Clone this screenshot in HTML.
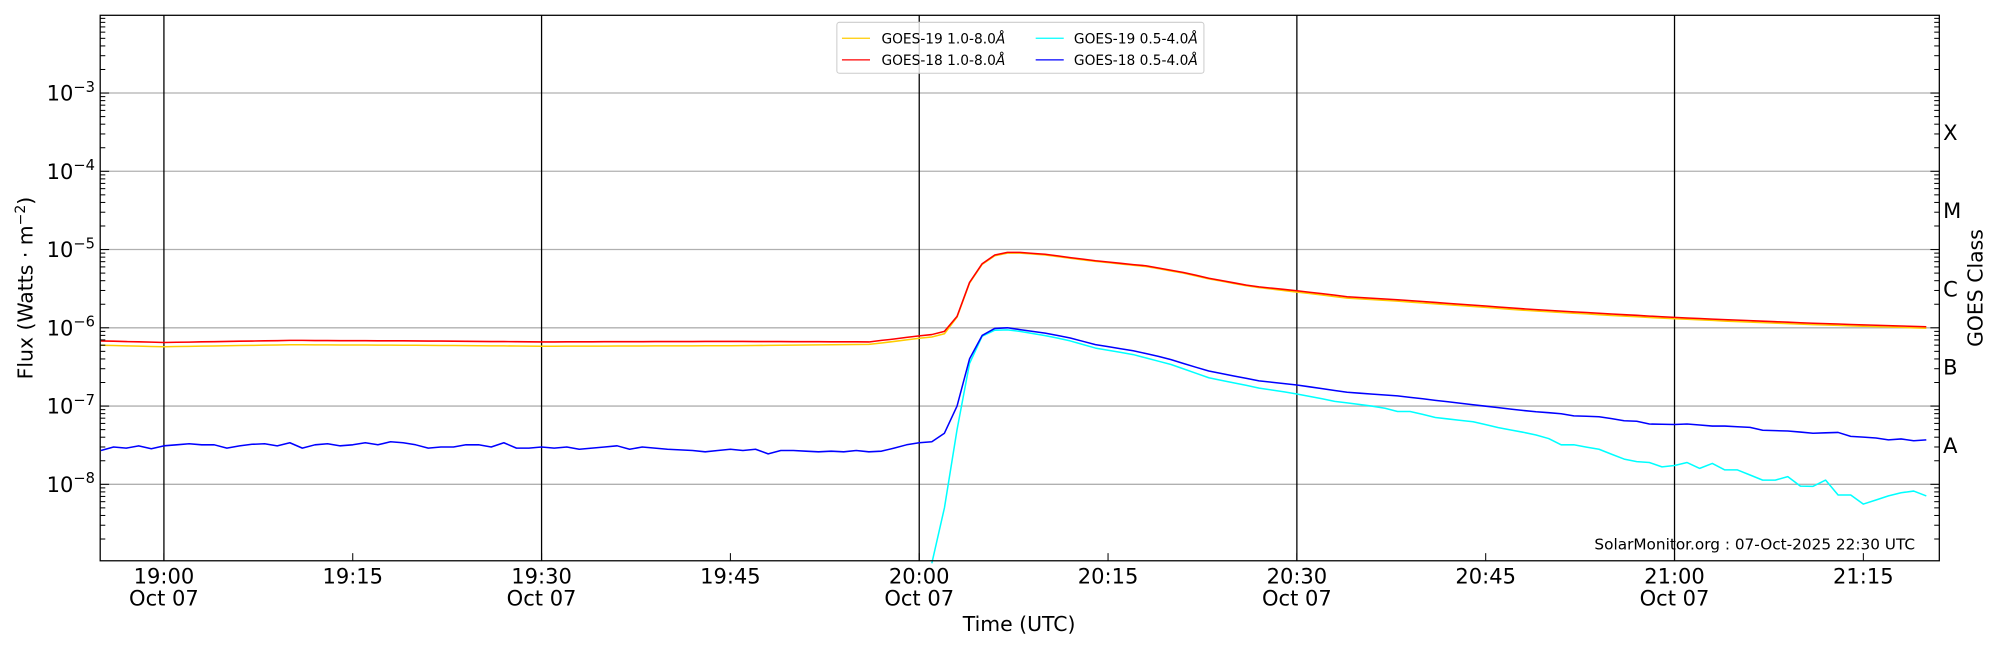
<!DOCTYPE html>
<html><head><meta charset="utf-8"><style>
html,body{margin:0;padding:0;background:#fff;width:2000px;height:650px;overflow:hidden}
svg{display:block}
text{font-family:"DejaVu Sans","Liberation Sans",sans-serif;fill:#000}
</style></head><body>
<svg id="s" width="2000" height="650" viewBox="0 0 1568 510" xmlns="http://www.w3.org/2000/svg">
<rect width="1568" height="510" fill="#fff"/>
<g id="grid"></g>
<g id="series"></g>
<g id="axes"></g>
<rect x="78" y="12" width="1443" height="428" fill="none" stroke="#000" stroke-width="1"/>
<rect x="656" y="17.5" width="288" height="40" rx="2" fill="#fff" fill-opacity="0.8" stroke="#ccc" stroke-width="0.8"/>
<line x1="660" y1="30" x2="682" y2="30" stroke="#ffcc00" stroke-width="1"/>
<line x1="660" y1="47" x2="682" y2="47" stroke="#ff0000" stroke-width="1"/>
<line x1="812" y1="30" x2="834" y2="30" stroke="#00ffff" stroke-width="1"/>
<line x1="812" y1="47" x2="834" y2="47" stroke="#0000ff" stroke-width="1"/>
<text x="691" y="34" font-size="10.8">GOES-19 1.0-8.0<tspan font-style="italic">Å</tspan></text>
<text x="691" y="51" font-size="10.8">GOES-18 1.0-8.0<tspan font-style="italic">Å</tspan></text>
<text x="842" y="34" font-size="10.8">GOES-19 0.5-4.0<tspan font-style="italic">Å</tspan></text>
<text x="842" y="51" font-size="10.8">GOES-18 0.5-4.0<tspan font-style="italic">Å</tspan></text>
<text x="1502" y="431" font-size="12" text-anchor="end">SolarMonitor.org : 07-Oct-2025 22:30 UTC</text>
<text x="799" y="495" font-size="16" text-anchor="middle">Time (UTC)</text>
<text transform="translate(25,226) rotate(-90)" font-size="16" text-anchor="middle">Flux (Watts · m<tspan dy="-6" font-size="11">−2</tspan><tspan dy="6">)</tspan></text>
<text transform="translate(1555,226) rotate(-90)" font-size="16" text-anchor="middle">GOES Class</text>
</svg>
<script>
var NS="http://www.w3.org/2000/svg";
function el(p,t,a,txt){var e=document.createElementNS(NS,t);for(var k in a)e.setAttribute(k,a[k]);if(txt!==undefined)e.textContent=txt;document.getElementById(p).appendChild(e);return e;}
var L=78,R=1521,T=12,B=440;
function X(m){return 128+m*9.877;}
function Y(v){return 380-(Math.log10(v)+8)*61.4;}
for(var d=-8;d<=-3;d++){var y=Y(Math.pow(10,d));el("grid","line",{x1:L,x2:R,y1:y,y2:y,stroke:"#b0b0b0","stroke-width":1});}
for(var h=0;h<=120;h+=30){var x=X(h);el("grid","line",{x1:x,x2:x,y1:T,y2:B,stroke:"#000","stroke-width":1});}
for(var d=-9;d<=-3;d++){for(var k=1;k<=9;k++){var y=Y(k*Math.pow(10,d));if(y<T||y>B)continue;var len=k==1?7:4;
el("axes","line",{x1:L,x2:L+len,y1:y,y2:y,stroke:"#000","stroke-width":0.8});
el("axes","line",{x1:R-len,x2:R,y1:y,y2:y,stroke:"#000","stroke-width":0.8});}}
for(var d=-3;d>=-8;d--){var y=Y(Math.pow(10,d));var t=el("axes","text",{x:36,y:y+6,"font-size":16.5},"10");var ts=document.createElementNS(NS,"tspan");ts.setAttribute("dy","-7");ts.setAttribute("font-size","11.5");ts.textContent="−"+(-d);t.appendChild(ts);}
var cls=["X","M","C","B","A"];for(var i=0;i<5;i++){var y=Y(Math.pow(10,-3.5-i));el("axes","text",{x:1524,y:y+6,"font-size":16.5},cls[i]);}
var xl=["19:00","19:15","19:30","19:45","20:00","20:15","20:30","20:45","21:00","21:15"];
for(var i=0;i<10;i++){var x=X(i*15);el("axes","line",{x1:x,x2:x,y1:B,y2:B-6,stroke:"#000","stroke-width":0.8});
el("axes","text",{x:x,y:458,"font-size":16.5,"text-anchor":"middle"},xl[i]);
if(i%2==0)el("axes","text",{x:x,y:475,"font-size":16.5,"text-anchor":"middle"},"Oct 07");}
function interp(kp,m){if(m<=kp[0][0])return kp[0][1];for(var i=0;i<kp.length-1;i++){if(m>=kp[i][0]&&m<=kp[i+1][0]){var f=(m-kp[i][0])/(kp[i+1][0]-kp[i][0]);return Math.pow(10,Math.log10(kp[i][1])*(1-f)+Math.log10(kp[i+1][1])*f);}}return kp[kp.length-1][1];}
function series(kp,s,e){var a=[];for(var m=s;m<=e;m++)a.push(interp(kp,m));return a;}
function path(vals,start,col){var d="";for(var i=0;i<vals.length;i++){var y=Math.min(B+2,Y(vals[i]));d+=(i?"L":"M")+X(start+i).toFixed(1)+","+y.toFixed(1);}el("series","path",{d:d,fill:"none",stroke:col,"stroke-width":1.2,"stroke-linejoin":"round"});}
var red=[[-5,6.8e-7],[0,6.5e-7],[10,6.9e-7],[20,6.8e-7],[30,6.6e-7],[45,6.7e-7],[56,6.6e-7],[58,7.2e-7],[60,7.9e-7],[61,8.2e-7],[62,9.0e-7],[63,1.4e-6],[64,3.8e-6],[65,6.6e-6],[66,8.5e-6],[67,9.2e-6],[68,9.2e-6],[70,8.7e-6],[72,7.9e-6],[74,7.2e-6],[78,6.2e-6],[81,5.1e-6],[83,4.3e-6],[86.5,3.4e-6],[90,2.98e-6],[94,2.5e-6],[98,2.28e-6],[103,2.0e-6],[108,1.75e-6],[112,1.6e-6],[116,1.47e-6],[120,1.36e-6],[125,1.25e-6],[130,1.16e-6],[135,1.09e-6],[140,1.03e-6]];
var yel=red.map(function(p){var f=p[0]<56?0.88:(p[0]<63?0.93:(p[0]<90?0.98:0.96));return [p[0],p[1]*f];});
var blueJ=[2.7,3.0,2.9,3.1,2.85,3.1,3.2,3.3,3.2,3.2,2.9,3.1,3.25,3.3,3.1,3.4,2.9,3.2,3.3,3.1,3.2,3.4,3.2,3.5,3.4,3.2,2.9,3.0,3.0,3.2,3.2,3.0,3.4,2.9,2.9,3.0,2.9,3.0,2.8,2.9,3.0,3.1,2.8,3.0,2.9,2.8,2.75,2.7,2.6,2.7,2.8,2.7,2.8,2.45,2.7,2.7,2.65,2.6,2.65,2.6,2.7,2.6,2.65,2.9,3.2];
var blueK=[[60,3.4e-8],[61,3.5e-8],[62,4.5e-8],[63,1.0e-7],[64,4.0e-7],[65,8.0e-7],[66,9.8e-7],[67,1.0e-6],[68,9.5e-7],[70.5,8.3e-7],[72,7.4e-7],[74,6.1e-7],[77,5.1e-7],[79.6,4.1e-7],[83,2.8e-7],[87,2.1e-7],[90,1.86e-7],[94,1.5e-7],[98,1.35e-7],[104,1.04e-7],[108.7,8.5e-8],[111,8.0e-8],[112,7.5e-8],[114,7.3e-8],[116,6.5e-8],[117,6.4e-8],[118,5.9e-8],[120,5.8e-8],[121,5.9e-8],[123,5.55e-8],[124,5.55e-8],[126,5.35e-8],[127,4.9e-8],[129,4.8e-8],[131,4.5e-8],[133,4.6e-8],[134,4.1e-8],[136,3.9e-8],[137,3.7e-8],[138,3.8e-8],[139,3.6e-8],[140,3.7e-8]];
var cyK=[[61,9e-10],[62,5e-9],[63,5.0e-8],[64,3.5e-7],[65,7.8e-7],[66,9.3e-7],[67,9.4e-7],[68,9.0e-7],[70.5,7.7e-7],[72,6.8e-7],[74,5.5e-7],[77,4.55e-7],[80,3.4e-7],[83,2.3e-7],[87,1.7e-7],[90,1.43e-7],[93,1.15e-7],[96.8,9.6e-8],[97.9,8.5e-8],[99.2,8.5e-8],[100.8,7.2e-8],[104,6.3e-8],[106,5.3e-8],[108.7,4.4e-8],[110,3.85e-8],[111,3.2e-8],[112,3.2e-8],[114,2.8e-8],[116,2.1e-8],[117,1.95e-8],[118,1.9e-8],[119,1.67e-8],[120,1.74e-8],[121,1.9e-8],[122,1.6e-8],[123,1.85e-8],[124,1.53e-8],[125,1.53e-8],[127,1.13e-8],[128,1.13e-8],[129,1.25e-8],[130,9.5e-9],[131,9.4e-9],[132,1.13e-8],[133,7.3e-9],[134,7.3e-9],[135,5.6e-9],[136,6.3e-9],[137,7.1e-9],[138,7.8e-9],[139,8.2e-9],[140,7.1e-9]];
path(series(yel,-5,140),-5,"#ffcc00");
path(series(red,-5,140),-5,"#ff0000");
path(series(cyK,61,140),61,"#00ffff");
var blue=blueJ.map(function(v){return v*1e-8;}).concat(series(blueK,60,140));
path(blue,-5,"#0000ff");
</script>
</body></html>
